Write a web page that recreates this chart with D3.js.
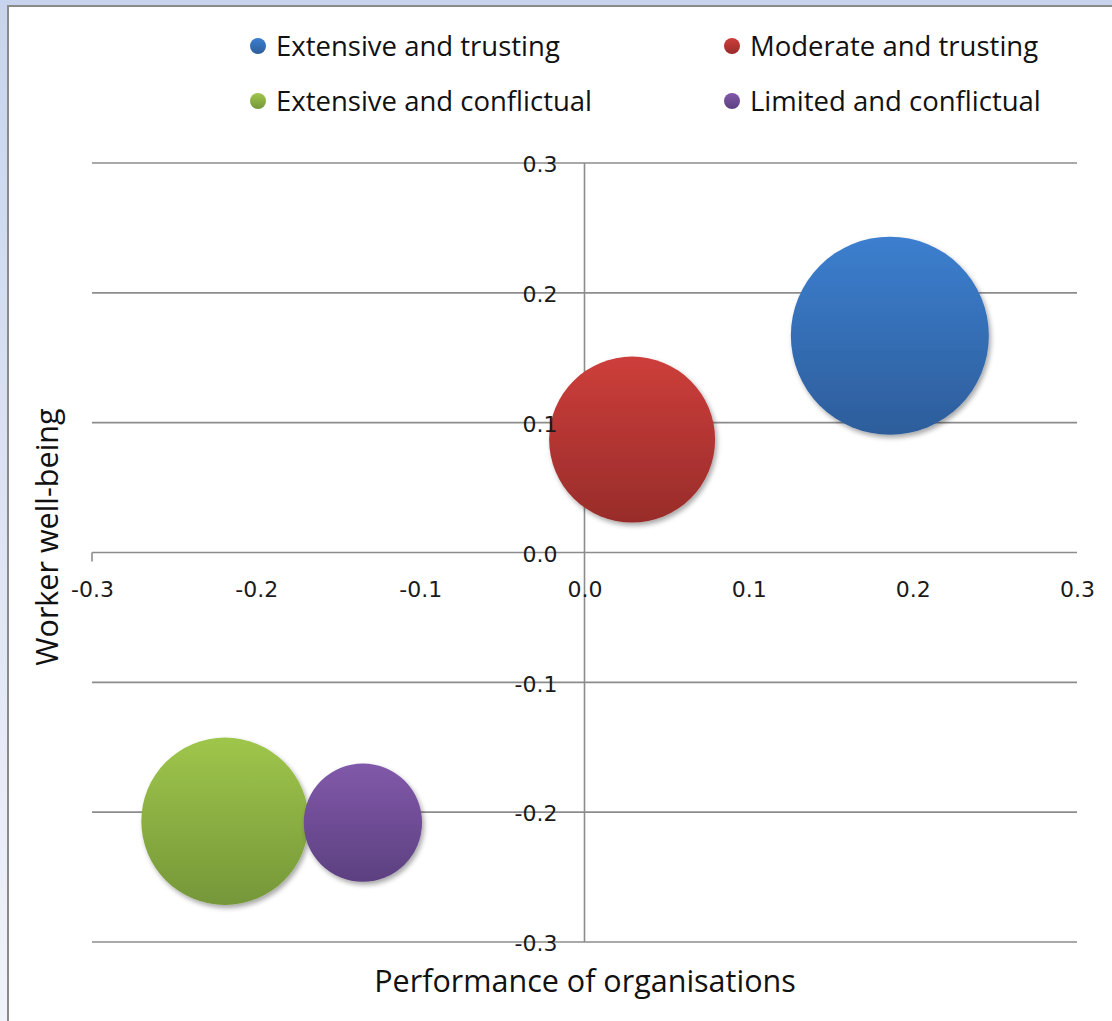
<!DOCTYPE html>
<html>
<head>
<meta charset="utf-8">
<script src="https://cdn.jsdelivr.net/npm/d3@7"></script>
<style>
  html, body { margin: 0; padding: 0; background: #fff; }
  svg { display: block; }
</style>
</head>
<body>
<svg id="chart" width="1112" height="1021"></svg>
<script>
// Employee relations clusters: organisational performance vs. worker well-being
const categories = ["Extensive and trusting", "Moderate and trusting", "Extensive and conflictual", "Limited and conflictual"];
const performance = [0.186, 0.029, -0.219, -0.135];
const wellbeing = [0.167, 0.087, -0.207, -0.208];
const bubbleSize = [42, 29.5, 30, 15];
const colorTop = ["#3c7fcf", "#cd3e3b", "#9fc64b", "#8159aa"];
const colorBottom = ["#2d5d9b", "#982c2a", "#759739", "#5c4080"];
const xTicks = [-0.3, -0.2, -0.1, 0.0, 0.1, 0.2, 0.3];
const yTicks = [-0.3, -0.2, -0.1, 0.0, 0.1, 0.2, 0.3];

const svg = d3.select("#chart");
const W = 1112, H = 1021;

const fmt = d3.formatLocale({decimal: ".", thousands: ",", grouping: [3], currency: ["", ""], minus: "-"}).format(".1f");

// window frame
const defs = svg.append("defs");
const frameGrad = defs.append("linearGradient").attr("id", "frame").attr("x1", 0).attr("y1", 0).attr("x2", 0).attr("y2", 1);
frameGrad.append("stop").attr("offset", 0).attr("stop-color", "#c8d4ed");
frameGrad.append("stop").attr("offset", 1).attr("stop-color", "#f1f3fa");
svg.append("rect").attr("width", W).attr("height", H).attr("fill", "url(#frame)");
svg.append("rect").attr("x", 0).attr("y", 0).attr("width", W).attr("height", 6).attr("fill", "#c8d4ed");
svg.append("rect").attr("x", 8).attr("y", 6).attr("width", W - 8).attr("height", H - 6).attr("fill", "#ffffff");
svg.append("path").attr("d", `M8,${H} V6 H${W}`).attr("fill", "none").attr("stroke", "#8a8a8a").attr("stroke-width", 2);

// gradients + shadow
colorTop.forEach((c, i) => {
  const g = defs.append("linearGradient").attr("id", "bub" + i).attr("x1", 0).attr("y1", 0).attr("x2", 0).attr("y2", 1);
  g.append("stop").attr("offset", 0).attr("stop-color", c);
  g.append("stop").attr("offset", 1).attr("stop-color", colorBottom[i]);
});
const sh = defs.append("filter").attr("id", "shadow").attr("x", "-20%").attr("y", "-20%").attr("width", "140%").attr("height", "140%");
sh.append("feDropShadow").attr("dx", 2).attr("dy", 3).attr("stdDeviation", 2.5).attr("flood-color", "#000").attr("flood-opacity", 0.35);

const x = d3.scaleLinear().domain([-0.3, 0.3]).range([92, 1077]);
const y = d3.scaleLinear().domain([-0.3, 0.3]).range([942, 163]);
const r = d3.scaleSqrt().domain([0, 42]).range([0, 99]);

// horizontal gridlines
svg.append("g").selectAll("line").data(yTicks).join("line")
  .attr("x1", x(-0.3)).attr("x2", x(0.3))
  .attr("y1", d => y(d)).attr("y2", d => y(d))
  .attr("stroke", "#8c8c8c").attr("stroke-width", 1.6);

// vertical axis line and left tick mark
svg.append("line").attr("x1", x(0)).attr("x2", x(0)).attr("y1", y(0.3)).attr("y2", y(-0.3))
  .attr("stroke", "#8c8c8c").attr("stroke-width", 1.6);
svg.append("line").attr("x1", x(-0.3)).attr("x2", x(-0.3)).attr("y1", y(0)).attr("y2", y(0) + 9)
  .attr("stroke", "#8c8c8c").attr("stroke-width", 1.6);

// bubbles
const idx = d3.range(categories.length).sort((a, b) => bubbleSize[b] - bubbleSize[a]);
svg.append("g").selectAll("circle").data(idx).join("circle")
  .attr("cx", i => x(performance[i]))
  .attr("cy", i => y(wellbeing[i]))
  .attr("r", i => r(bubbleSize[i]))
  .attr("fill", i => `url(#bub${i})`)
  .attr("filter", "url(#shadow)");

// tick labels
const tickFont = "'DejaVu Sans', Verdana, sans-serif";
const yAxis = svg.append("g").attr("transform", `translate(${x(0)},0)`)
  .call(d3.axisLeft(y).tickValues(yTicks).tickFormat(fmt).tickSize(0).tickPadding(27));
yAxis.select(".domain").remove();
yAxis.selectAll("text").attr("font-family", tickFont).attr("font-size", 22).attr("fill", "#1a1a1a").attr("dy", "0.4em");

const xAxis = svg.append("g").attr("transform", `translate(0,${y(0)})`)
  .call(d3.axisBottom(x).tickValues(xTicks).tickFormat(fmt).tickSize(0).tickPadding(29));
xAxis.select(".domain").remove();
xAxis.selectAll("text").attr("font-family", tickFont).attr("font-size", 22).attr("fill", "#1a1a1a");

// axis titles
const titleFont = "'Open Sans', Lato, sans-serif";
svg.append("text").attr("x", 585).attr("y", 992).attr("text-anchor", "middle")
  .attr("font-family", titleFont).attr("font-size", 30.5).attr("fill", "#111")
  .text("Performance of organisations");
svg.append("text").attr("transform", `translate(58,537) rotate(-90)`).attr("text-anchor", "middle")
  .attr("font-family", titleFont).attr("font-size", 30.5).attr("fill", "#111")
  .text("Worker well-being");

// legend
const legendPos = [[258, 46], [732, 46], [258, 101], [732, 101]];
const lg = svg.append("g").selectAll("g").data(d3.range(categories.length)).join("g")
  .attr("transform", i => `translate(${legendPos[i][0]},${legendPos[i][1]})`);
lg.append("circle").attr("r", 8).attr("fill", i => `url(#bub${i})`);
lg.append("text").attr("x", 18).attr("y", 10)
  .attr("font-family", titleFont).attr("font-size", 27.5).attr("fill", "#111")
  .text(i => categories[i]);
</script>
</body>
</html>
